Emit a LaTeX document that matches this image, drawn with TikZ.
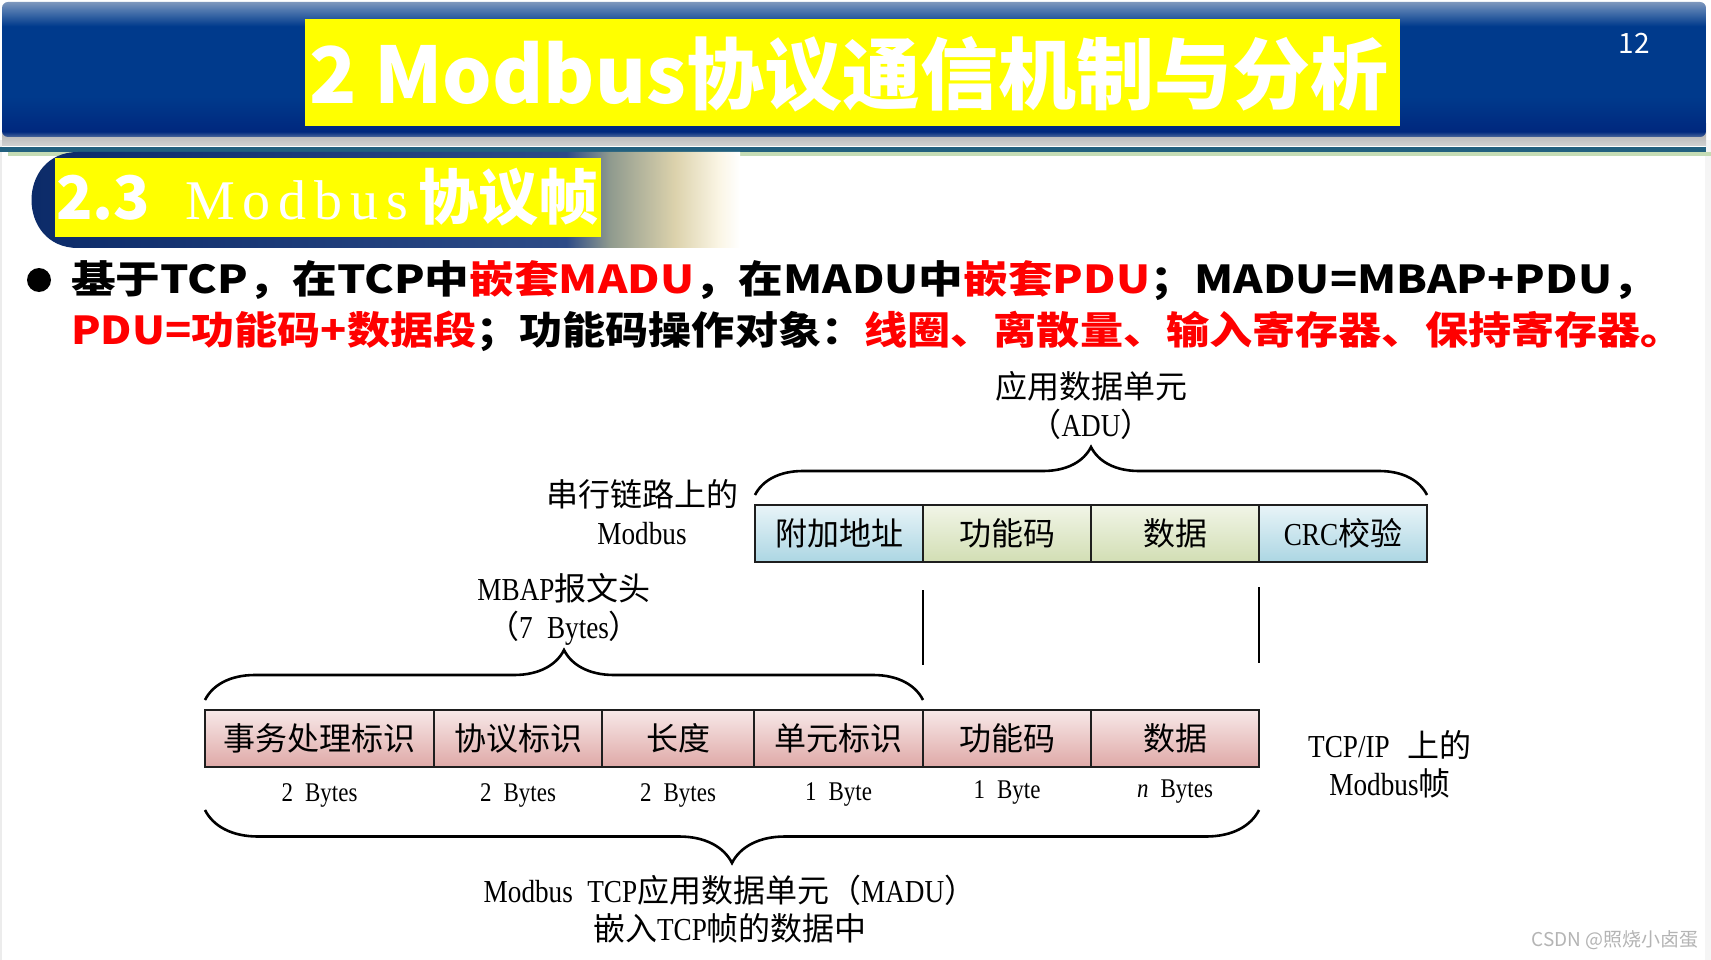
\documentclass[tikz,border=0pt]{standalone}
\usepackage{fontspec}
\usepackage{xcolor}
\usepackage{tikz}
\usetikzlibrary{positioning,decorations.pathreplacing}
\setmainfont{Liberation Serif}[FakeStretch=0.85]
\newfontfamily\cjk{Noto Sans CJK SC}
\newfontfamily\cjkwide{Noto Sans CJK SC}[FakeStretch=1.12]
\newfontfamily\cjkwider{Noto Sans CJK SC}[FakeStretch=1.16]
\newfontfamily\secserif{Liberation Serif}[LetterSpace=14]
\definecolor{bandhi}{HTML}{4F77AE}
\definecolor{bandmid}{HTML}{003A8C}
\definecolor{banddk}{HTML}{00287E}
\definecolor{bandrimb}{HTML}{4B689C}
\definecolor{bandrimt}{HTML}{7D97BD}
\definecolor{ttlyellow}{HTML}{FFFF00}
\definecolor{tealline}{HTML}{22607F}
\definecolor{greenline}{HTML}{C5DCB5}
\definecolor{pilla}{HTML}{0B2A68}
\definecolor{pillb}{HTML}{2D4B87}
\definecolor{pillc}{HTML}{8F9A8E}
\definecolor{pilld}{HTML}{DCD2AC}
\definecolor{pille}{HTML}{FAF5E4}
\definecolor{hred}{HTML}{FF0000}
\definecolor{cellline}{HTML}{1E1E1E}
\definecolor{blutop}{HTML}{E8F4F8}
\definecolor{blubot}{HTML}{ACD6E3}
\definecolor{grntop}{HTML}{F1F5E7}
\definecolor{grnbot}{HTML}{D2DEB4}
\definecolor{pnktop}{HTML}{F7E8E8}
\definecolor{pnkbot}{HTML}{DFA9A7}
\definecolor{wmgray}{HTML}{B4B4B4}
\pgfdeclareverticalshading{bandshade}{100bp}{color(0bp)=(bandrimb); color(25bp)=(bandrimb); color(27bp)=(banddk); color(40bp)=(bandmid); color(66bp)=(bandmid); color(72bp)=(bandhi); color(75bp)=(bandrimt); color(100bp)=(bandrimt)}
\pgfdeclarehorizontalshading{pillshade}{100bp}{color(0bp)=(pilla); color(25bp)=(pilla); color(63bp)=(pillb); color(66bp)=(pillc); color(70.5bp)=(pilld); color(73.5bp)=(pille); color(75bp)=(white); color(100bp)=(white)}
\newcommand{\latn}[1]{{\rmfamily #1}}
\newcommand{\gap}{\hspace{0.45em}}
\tikzset{
  cellbox/.style={rectangle, draw=cellline, line width=2.4pt, outer sep=0pt, inner sep=0pt,
                  top color=#1top, bottom color=#1bot, minimum height=57pt,
                  font=\cjk\fontsize{32}{32}\selectfont},
  bytelbl/.style={inner sep=0pt, font=\fontsize{27}{27}\selectfont},
  lbl/.style={align=center, inner sep=0pt, font=\cjk\fontsize{32}{38}\selectfont},
  bracedeco/.style={decorate, decoration={brace, amplitude=#1}, line width=2.6pt},
  bracedeco/.default=50pt,
  divline/.style={line width=2.6pt},
  headtxt/.style={inner sep=0pt, text=white},
}
\begin{document}
\begin{tikzpicture}[x=1pt, y=-1pt]
  \useasboundingbox (0,0) rectangle (1711,960);
  \fill[white] (0,0) rectangle (1711,960);
  \fill[gray!8] (1705,140) rectangle (1711,960);
  \fill[gray!15] (0,140) rectangle (2,960);

  % header band
  \shade[top color=gray!75, bottom color=gray!35] (2,124) rectangle (1706,146);
  \shade[rounded corners=6pt, shading=bandshade] (2,2) rectangle (1706,137);
  \fill[tealline] (0,147) rectangle (1706,152);
  \fill[greenline] (8,152) rectangle (1711,156);
  \fill[ttlyellow] (305,19) rectangle (1400,126);
  \node[headtxt, anchor=base west, font=\cjk\bfseries\fontsize{78}{78}\selectfont] (ttl) at (309,104)
    {2 Modbus协议通信机制与分析};
  \node[headtxt, font=\cjk\fontsize{28}{28}\selectfont] (pgno) at (1634,43) {12};

  % section pill
  \shade[shading=pillshade] (740,152) -- (78,152) .. controls (16,152) and (16,248) .. (78,248) -- (740,248) -- cycle;
  \fill[ttlyellow] (55,158) rectangle (601,237);
  \node[headtxt, anchor=base west, font=\cjk\bfseries\fontsize{60}{60}\selectfont] (secno) at (56,220) {2.3};
  \node[headtxt, anchor=base west, font=\secserif\fontsize{56}{56}\selectfont] (secmod) at (185,220) {Modbus};
  \node[headtxt, anchor=base east, font=\cjk\bfseries\fontsize{60}{60}\selectfont] (secttl) at (599,220) {协议帧};

  % bullet
  \node[circle, fill=black, minimum size=24pt, inner sep=0pt] (dot) at (39,280) {};
  \node[anchor=base west, inner sep=0pt, font=\cjkwider\bfseries\fontsize{38.5}{38.5}\selectfont] (line1) at (71,294)
    {基于TCP，在TCP中\textcolor{hred}{嵌套MADU}，在MADU中\textcolor{hred}{嵌套PDU}；MADU=MBAP+PDU，};
  \node[anchor=base west, inner sep=0pt, font=\cjkwide\bfseries\fontsize{38.5}{38.5}\selectfont] (line2) at (71,344)
    {\textcolor{hred}{PDU=功能码+数据段}；功能码操作对象：\textcolor{hred}{线圈、离散量、输入寄存器、保持寄存器。}};

  % serial ADU
  \node[cellbox=blu, minimum width=168pt, anchor=north west] (addr) at (755,505) {附加地址};
  \node[cellbox=grn, minimum width=168pt, right=0pt of addr] (fc1) {功能码};
  \node[cellbox=grn, minimum width=168pt, right=0pt of fc1] (dat1) {数据};
  \node[cellbox=blu, minimum width=168pt, right=0pt of dat1] (crc) {\latn{CRC}校验};
  \draw[bracedeco=48pt] ([yshift=10pt]addr.north west) -- ([yshift=10pt]crc.north east);
  \node[lbl] (adulbl) at (1091,405) {应用数据单元\\（\latn{ADU}）};
  \node[lbl] (serlbl) at (642,512) {串行链路上的\\\latn{Modbus}};

  % TCP MADU
  \node[cellbox=pnk, minimum width=229pt, anchor=north west] (tid) at (205,710) {事务处理标识};
  \node[cellbox=pnk, minimum width=168pt, right=0pt of tid] (pid) {协议标识};
  \node[cellbox=pnk, minimum width=152pt, right=0pt of pid] (len) {长度};
  \node[cellbox=pnk, minimum width=169pt, right=0pt of len] (uid) {单元标识};
  \node[cellbox=pnk, minimum width=168pt, right=0pt of uid] (fc2) {功能码};
  \node[cellbox=pnk, minimum width=168pt, right=0pt of fc2] (dat2) {数据};
  \node[bytelbl] (b1) at ([yshift=-28pt]tid.south) {2\gap Bytes};
  \node[bytelbl] (b2) at ([yshift=-28pt]pid.south) {2\gap Bytes};
  \node[bytelbl] (b3) at ([yshift=-28pt]len.south) {2\gap Bytes};
  \node[bytelbl] (b4) at ([yshift=-27pt]uid.south) {1\gap Byte};
  \node[bytelbl] (b5) at ([yshift=-25pt]fc2.south) {1\gap Byte};
  \node[bytelbl] (b6) at ([yshift=-25pt]dat2.south) {\textit{n}\gap Bytes};
  \draw[bracedeco=50pt] ([yshift=10pt]tid.north west) -- ([yshift=10pt]uid.north east);
  \draw[bracedeco=53pt] ([yshift=-43pt]dat2.south east) -- ([yshift=-43pt]tid.south west);
  \node[lbl] (mbaplbl) at (564,609) {\latn{MBAP}报文头\\（\latn{7\gap Bytes}）};
  \node[lbl] (tcplbl) at (1390,764) {\latn{TCP/IP}\hspace{18pt}上的\\\latn{Modbus}帧};
  \node[lbl] (madulbl) at (730,909)
    {\latn{Modbus\gap TCP}应用数据单元（\latn{MADU}）\\嵌入\latn{TCP}帧的数据中};

  % PDU lines
  \draw[divline] ([yshift=-28pt]fc1.south west) -- ([yshift=45pt]fc2.north west);
  \draw[divline] ([yshift=-25pt]crc.south west) -- ([yshift=47pt]dat2.north east);

  \node[anchor=east, text=wmgray, font=\cjk\fontsize{19}{19}\selectfont] (wm) at (1702,940) {CSDN @照烧小卤蛋};
\end{tikzpicture}
\end{document}
